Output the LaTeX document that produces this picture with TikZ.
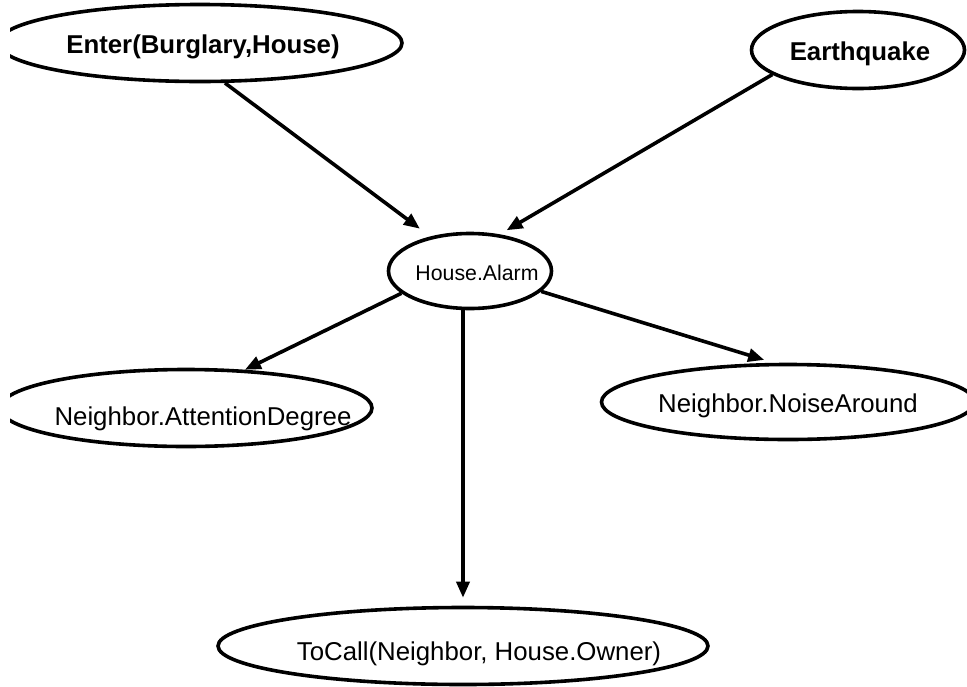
\documentclass[tikz,border=0pt]{standalone}
\usepackage{fontspec}
\setmainfont{Liberation Sans}
\usetikzlibrary{shapes.geometric,arrows.meta}
\tikzset{
  ell/.style={draw=black, line width=3.6pt, ellipse, inner sep=0pt, fill=white},
  lbl/.style={anchor=base, inner sep=0pt, font=\fontsize{25.8}{30}\selectfont},
  blbl/.style={lbl, font=\fontsize{25.8}{30}\selectfont\bfseries},
  arr/.style={line width=3.6pt, -{Triangle[length=16pt,width=13pt]}}
}
\begin{document}
\begin{tikzpicture}[x=1pt,y=-1pt]
\useasboundingbox (0,0) rectangle (967,686);
\clip (10,0) rectangle (967,686);
% ellipses
\node[ell, minimum width=404pt, minimum height=77pt] (enter) at (200,43) {};
\node[ell, minimum width=213pt, minimum height=77pt] (quake) at (858,50) {};
\node[ell, minimum width=163pt, minimum height=75pt] (alarm) at (470,271) {};
\node[ell, minimum width=372pt, minimum height=77pt] (att) at (186,408) {};
\node[ell, minimum width=373pt, minimum height=75pt] (noise) at (788,402) {};
\node[ell, minimum width=490pt, minimum height=77pt] (call) at (463,646) {};
% labels
\node[blbl] (enterT) at (203,53) {Enter(Burglary,House)};
\node[blbl] (quakeT) at (860,60) {Earthquake};
\node[lbl, font=\fontsize{21.3}{25}\selectfont] (alarmT) at (477,280) {House.Alarm};
\node[lbl] (attT) at (203,425) {Neighbor.AttentionDegree};
\node[lbl] (noiseT) at (788,412) {Neighbor.NoiseAround};
\node[lbl] (callT) at (479,660) {ToCall(Neighbor, House.Owner)};
% connectors
\draw[arr, shorten >=13pt] (enter.-58) -- (alarm.139);
\draw[arr, shorten >=8pt] (quake.-164.5) -- (alarm.51);
\draw[arr] (alarm.-162) -- (att.33);
\draw[arr, shorten >=10pt] (alarm.-16) -- (noise.110);
\draw[arr, shorten >=8pt] (call.north |- alarm.south) -- (call.north);
\end{tikzpicture}
\end{document}
